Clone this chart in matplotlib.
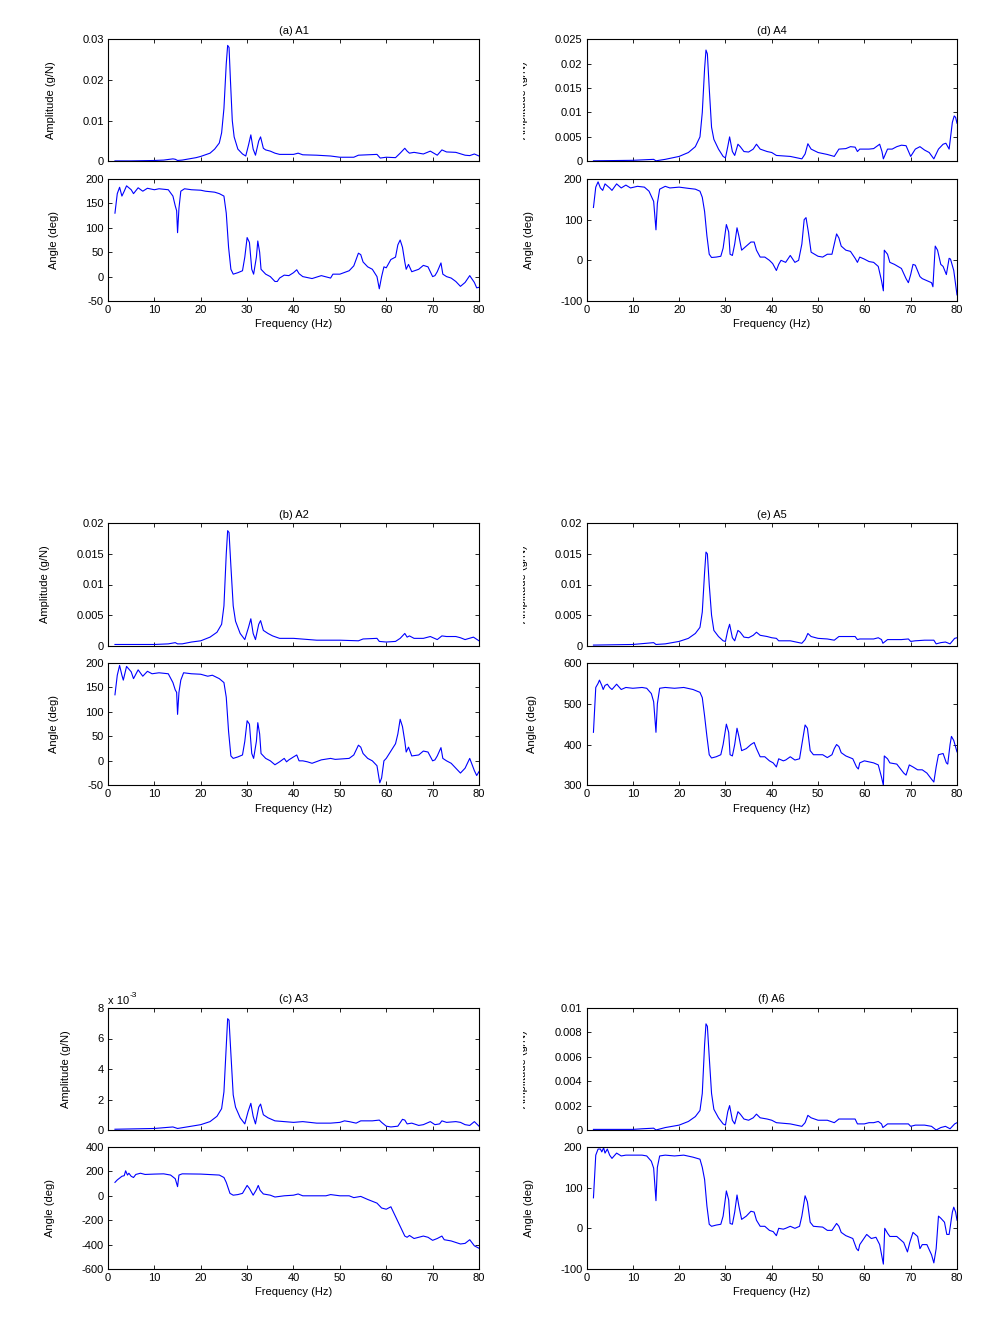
import numpy as np
import matplotlib
matplotlib.use('Agg')
import matplotlib.pyplot as plt
from matplotlib.transforms import Bbox, TransformedBbox

plt.rcParams['font.family'] = ['Liberation Sans', 'DejaVu Sans']
plt.rcParams['font.size'] = 8
plt.rcParams['axes.unicode_minus'] = False

# (frequency Hz, value) pairs
a1_amp = [(1.5,0.0001),(5,0.0001),(10,0.0002),(12,0.0003),(14,0.0006),(14.5,0.0005),(15,0.0002),(16,0.0003),
          (17,0.0005),(19,0.0009),(20,0.0012),(22,0.002),(23,0.003),(24,0.0045),(24.5,0.007),(25,0.013),
          (25.5,0.024),(25.8,0.0285),(26.1,0.028),(26.4,0.02),(26.8,0.01),(27.2,0.006),(28,0.003),(29,0.0018),
          (29.7,0.0013),(30.3,0.004),(30.8,0.0065),(31.3,0.003),(31.8,0.0015),(32.5,0.005),(32.9,0.006),
          (33.5,0.0032),(34,0.0028),(35,0.0025),(36,0.002),(37,0.0017),(40,0.0017),(41,0.002),(42,0.0016),
          (45,0.0015),(48,0.0013),(50,0.001),(53,0.001),(54,0.0015),(58,0.0017),(58.7,0.0008),(60,0.001),
          (62,0.0009),(63,0.002),(64,0.0032),(64.5,0.0025),(65,0.002),(66,0.0022),(68,0.0018),(69.5,0.0025),
          (71,0.0015),(72,0.0028),(73,0.0023),(75,0.0022),(77,0.0015),(78,0.0014),(79,0.0018),(80,0.0013)]
a1_ang = [(1.5,130),(2,170),(2.5,183),(3,165),(3.5,175),(4,186),(5,178),(5.5,170),(6.5,182),(7.5,175),
          (8.5,181),(10,178),(11,180),(13,178),(14,165),(14.5,145),(14.8,135),(15,90),(15.3,140),(15.7,175),
          (16.5,180),(18,178),(20,177),(21,175),(23,173),(24,170),(25,165),(25.5,130),(26,60),(26.5,15),
          (27,5),(28,8),(29,12),(29.5,40),(30,80),(30.5,70),(31,15),(31.4,5),(32,40),(32.3,73),(32.7,50),
          (33,15),(34,5),(35,0),(36,-10),(36.5,-10),(37,-3),(38,3),(39,2),(40,8),(40.7,14),(41.2,6),(42,0),
          (44,-4),(46,2),(48,-3),(48.5,5),(50,5),(52,12),(53,22),(54,48),(54.5,45),(55,30),(56,20),(57,15),
          (58,0),(58.5,-25),(59,0),(59.5,20),(60,18),(61,35),(62,40),(62.5,65),(63,75),(63.5,60),(64,30),
          (64.3,15),(64.8,25),(65.5,10),(67,15),(68,23),(69,20),(70,0),(70.5,2),(71,10),(71.8,28),(72.2,5),
          (73,0),(74,-3),(75,-10),(76,-20),(77,-12),(78,2),(79,-12),(79.5,-23),(80,-22)]

a2_amp = [(1.5,0.0002),(10,0.0002),(13,0.0003),(14.5,0.0005),(15,0.0003),(16,0.0003),(18,0.0006),(20,0.0008),
          (22,0.0014),(23.5,0.0022),(24.5,0.0035),(25,0.0065),(25.5,0.015),(25.8,0.0188),(26.1,0.0185),
          (26.5,0.013),(27,0.0065),(27.5,0.004),(28.5,0.002),(29.5,0.001),(30.3,0.003),(30.8,0.0044),
          (31.3,0.002),(31.8,0.001),(32.5,0.0035),(32.9,0.0041),(33.5,0.0025),(34.5,0.002),(35.5,0.0016),
          (37,0.0012),(40,0.0012),(45,0.0009),(50,0.0009),(54,0.0008),(55,0.0011),(58,0.0012),(58.5,0.0007),
          (60,0.0006),(62,0.0007),(63,0.0012),(64,0.002),(64.5,0.0014),(65,0.0016),(66,0.0012),(68,0.0012),
          (69.5,0.0015),(71,0.001),(72,0.0016),(73,0.0015),(75,0.0015),(76,0.0013),(77,0.001),(78.8,0.0014),
          (80,0.0008)]
a2_ang = [(1.5,135),(2,175),(2.5,195),(3,175),(3.3,165),(4,193),(5,182),(5.5,168),(6.5,186),(7.5,173),
          (8.5,183),(9.5,178),(11,180),(13,178),(14,160),(14.5,145),(14.8,140),(15,95),(15.3,140),(15.7,165),
          (16.3,180),(18,178),(20,177),(21.5,173),(22.5,175),(24,168),(25,160),(25.5,130),(26,60),(26.5,10),
          (27,5),(28,8),(29,12),(29.5,40),(30,82),(30.5,75),(31,15),(31.4,5),(32,40),(32.3,78),(32.7,55),
          (33,15),(34,5),(35,0),(36,-8),(37,-2),(38,5),(38.5,-2),(39,2),(40,8),(40.7,12),(41.2,0),(42,0),
          (43,-2),(44,-5),(46,2),(48,5),(49,3),(52,5),(53,12),(54,32),(54.5,28),(55,15),(56,5),(57,0),
          (58,-10),(58.6,-45),(59,-35),(59.5,0),(60,5),(61,20),(62,35),(62.5,55),(63,85),(63.5,70),(64,40),
          (64.3,18),(64.8,28),(65.5,10),(67,12),(68,20),(69,18),(70,0),(70.5,2),(71,10),(71.8,27),(72.2,5),
          (73,0),(74,-5),(75,-15),(76,-25),(77,-15),(77.5,-5),(78,5),(79,-20),(79.5,-30),(80,-22)]

a3_amp = [(1.5,0.05e-3),(10,0.1e-3),(14,0.2e-3),(15,0.1e-3),(17,0.2e-3),(20,0.35e-3),(22,0.55e-3),
          (23.5,0.9e-3),(24.5,1.4e-3),(25,2.5e-3),(25.5,5.5e-3),(25.8,7.3e-3),(26.1,7.2e-3),(26.5,5e-3),
          (27,2.3e-3),(27.5,1.5e-3),(28.5,0.8e-3),(29.5,0.4e-3),(30.2,1.2e-3),(30.8,1.75e-3),(31.3,0.9e-3),
          (31.8,0.4e-3),(32.5,1.5e-3),(32.9,1.7e-3),(33.5,1.0e-3),(34.5,0.8e-3),(36,0.6e-3),(38,0.55e-3),
          (40,0.5e-3),(42,0.55e-3),(45,0.45e-3),(48,0.45e-3),(50,0.5e-3),(51,0.6e-3),(52,0.55e-3),
          (53.5,0.45e-3),(54.5,0.6e-3),(57,0.6e-3),(58.5,0.65e-3),(59,0.5e-3),(60,0.25e-3),(61,0.2e-3),
          (62.5,0.25e-3),(63.5,0.7e-3),(64,0.65e-3),(64.5,0.4e-3),(65.5,0.45e-3),(67,0.3e-3),(68,0.35e-3),
          (69.5,0.55e-3),(70.5,0.35e-3),(71.5,0.4e-3),(72,0.6e-3),(73,0.5e-3),(75,0.55e-3),(76,0.5e-3),
          (77,0.35e-3),(78,0.3e-3),(79,0.55e-3),(80,0.25e-3)]
a3_ang = [(1.5,110),(2,130),(3,160),(3.5,165),(3.8,205),(4.2,170),(4.5,185),(5,160),(5.5,150),(6,175),
          (7,185),(8,175),(10,178),(12,180),(13.5,170),(14.5,140),(15,75),(15.3,170),(16,180),(20,178),
          (24,170),(25,150),(25.5,110),(26.3,20),(27,5),(28,10),(29,20),(30,85),(30.5,60),(31.3,5),(32,50),
          (32.4,85),(32.8,45),(33.5,15),(35,5),(36,-10),(38,0),(40,5),(41,15),(42,0),(45,0),(47,0),(48,10),
          (50,0),(52,0),(53,-15),(54.5,-5),(56,-30),(58,-60),(59,-100),(60,-110),(61,-90),(62,-170),
          (63,-250),(64,-330),(64.5,-340),(65,-325),(66,-350),(67,-340),(68,-330),(69,-340),(70,-365),
          (71,-350),(72,-330),(72.5,-360),(74,-370),(76,-395),(77,-390),(78,-360),(79,-410),(80,-430)]

a4_amp = [(1.5,0.0001),(10,0.0002),(14.5,0.0004),(15,0.0001),(17,0.0004),(20,0.001),(22,0.0018),
          (23.5,0.003),(24.5,0.005),(25,0.01),(25.5,0.019),(25.8,0.0228),(26.1,0.022),(26.5,0.015),(27,0.007),
          (27.5,0.0045),(28.5,0.0025),(29.5,0.001),(30,0.0007),(30.5,0.003),(30.9,0.005),(31.5,0.002),
          (32,0.0012),(32.7,0.0035),(33.2,0.003),(34,0.002),(35,0.0019),(36,0.0025),(36.7,0.0035),
          (37.5,0.0025),(39,0.002),(40,0.0018),(41,0.0012),(44,0.001),(46.5,0.0005),(47.2,0.0015),
          (47.8,0.0036),(48.5,0.0025),(50,0.0018),(52,0.0014),(53.5,0.001),(54.5,0.0025),(56,0.0026),
          (57,0.003),(58,0.0029),(58.5,0.002),(59,0.0025),(61,0.0025),(62,0.0026),(63.3,0.0035),(63.8,0.002),
          (64.1,0.0005),(65,0.0025),(66,0.0025),(67,0.003),(68,0.0033),(69,0.0032),(70,0.001),(71,0.0025),
          (72,0.003),(73,0.0023),(74,0.0018),(75,0.0005),(76,0.0025),(77,0.0035),(77.6,0.0037),(78.3,0.0025),
          (79,0.008),(79.4,0.0093),(79.7,0.009),(80,0.0078)]
a4_ang = [(1.5,130),(2,180),(2.5,193),(3,178),(3.5,172),(4,188),(5,178),(5.5,172),(6.5,188),(7.5,178),
          (8.5,185),(9.5,178),(11,182),(12.5,180),(13.5,170),(14.5,145),(15,75),(15.3,140),(15.8,175),
          (17,182),(18,178),(20,180),(22,177),(23.5,175),(24.5,170),(25,155),(25.5,120),(26,60),(26.5,15),
          (27,7),(28,8),(29,10),(29.5,30),(30.2,88),(30.7,70),(31,15),(31.5,12),(32,40),(32.5,80),(32.9,60),
          (33.5,25),(34.5,35),(35.5,45),(36.2,45),(36.7,25),(37.5,8),(38.5,8),(39.5,0),(40.2,-8),(41,-25),
          (41.5,-10),(42,0),(43,-5),(44,12),(45,-5),(45.8,0),(46.5,40),(47,100),(47.4,105),(47.9,70),(48.5,20),
          (50,10),(51,8),(52,15),(53,15),(53.5,40),(54,65),(54.5,55),(55,35),(56,25),(57,22),(58,5),(58.5,-5),
          (59,8),(60,3),(61,-3),(62,-5),(63,-15),(63.7,-50),(64.1,-75),(64.3,25),(65,15),(65.5,-5),(66.5,-10),
          (68,-20),(69,-45),(69.5,-55),(70,-35),(70.5,-10),(71,-12),(72,-40),(72.5,-45),(73.5,-50),(74.5,-55),
          (74.8,-65),(75.3,35),(75.8,25),(76.5,-10),(77,-15),(77.7,-35),(78.3,5),(78.6,3),(79.3,-25),(80,-85)]

a5_amp = [(1.5,0.0001),(10,0.0002),(14.5,0.0005),(15,0.0002),(17,0.0003),(20,0.0007),(22,0.0012),
          (23.5,0.002),(24.5,0.003),(25,0.0055),(25.5,0.012),(25.8,0.0153),(26.1,0.015),(26.5,0.01),(27,0.005),
          (27.5,0.0025),(28.5,0.0015),(29.5,0.0008),(30,0.0007),(30.5,0.0025),(30.9,0.0035),(31.5,0.0013),
          (32,0.0008),(32.7,0.0025),(33.2,0.0022),(34,0.0014),(35,0.0013),(36,0.0017),(36.7,0.0022),
          (37.5,0.0017),(39,0.0015),(40,0.0013),(41,0.0012),(41.5,0.0008),(44,0.0008),(46.5,0.0004),
          (47.2,0.001),(47.8,0.002),(48.5,0.0015),(50,0.0012),(52,0.0011),(53.5,0.0009),(54.5,0.0015),
          (56,0.0015),(58,0.0015),(58.5,0.001),(59,0.0011),(62,0.0011),(63,0.0013),(63.7,0.001),(64,0.0004),
          (65,0.001),(68,0.001),(69.5,0.0011),(70,0.0007),(71,0.0008),(73,0.0009),(75,0.0009),(75.5,0.0003),
          (76.5,0.0005),(77.5,0.0006),(78.5,0.0003),(79.5,0.0012),(80,0.0013)]
a5_ang = [(1.5,430),(2,540),(2.5,550),(2.8,558),(3.3,545),(3.6,535),(4,545),(4.5,548),(5,540),(5.5,535),
          (6.5,548),(7.5,535),(8.5,540),(10,538),(12,540),(13,538),(14,525),(14.5,505),(15,430),(15.3,500),
          (15.8,538),(17,540),(19,538),(21,540),(23,535),(24.5,528),(25,515),(25.5,470),(26,420),(26.5,375),
          (27,367),(28,370),(29,375),(29.5,400),(30.2,450),(30.7,430),(31,375),(31.5,372),(32,400),(32.5,440),
          (32.9,420),(33.5,385),(34.5,390),(35.5,400),(36.2,405),(36.7,390),(37.5,370),(38.5,370),(39.5,360),
          (40.3,355),(41,345),(41.5,365),(42.5,360),(43,362),(44,370),(45,362),(46,365),(46.5,400),(47.2,448),
          (47.7,440),(48.3,385),(49,375),(51,375),(52,368),(53,375),(53.5,390),(54,400),(54.5,395),(55,380),
          (56,372),(57.5,365),(58.3,345),(58.7,340),(59,355),(60,360),(62,355),(63,350),(63.7,320),(64.1,300),
          (64.3,372),(65,365),(65.5,355),(67,352),(68.5,330),(69,325),(69.7,350),(70.5,345),(71.5,338),
          (72.5,338),(73.5,330),(74.5,315),(75,308),(75.5,345),(76,375),(77,378),(77.7,355),(78,352),(78.5,400),
          (78.8,420),(79.3,410),(80,382)]

a6_amp = [(1.5,0.00005),(10,0.00005),(12,0.0001),(14.5,0.00015),(15,0.0),(17,0.0002),(20,0.0004),
          (22,0.0007),(23.5,0.0011),(24.5,0.0016),(25,0.003),(25.5,0.007),(25.8,0.0087),(26.1,0.0085),
          (26.5,0.006),(27,0.003),(27.5,0.0017),(28.5,0.001),(29.5,0.0005),(30,0.0004),(30.5,0.0015),
          (30.9,0.002),(31.5,0.0008),(32,0.0005),(32.7,0.0015),(33.2,0.0013),(34,0.0009),(35,0.0008),
          (36,0.001),(36.7,0.0013),(37.5,0.001),(39,0.0009),(40,0.0008),(41,0.0006),(44,0.0005),(46.5,0.0003),
          (47.2,0.0006),(47.8,0.0012),(48.5,0.001),(50,0.0008),(52,0.0008),(53.5,0.0006),(54.5,0.0009),
          (56,0.0009),(58,0.0009),(58.5,0.0005),(60,0.0005),(61,0.0006),(62,0.0006),(63,0.0007),(63.7,0.0005),
          (64,0.0002),(65,0.0005),(68,0.0005),(69.5,0.0005),(70,0.0003),(71,0.0004),(73,0.0004),(74.5,0.0003),
          (75.5,0.0),(76.5,0.0002),(77.5,0.0003),(78.5,0.0001),(79.5,0.0005),(80,0.0006)]
a6_ang = [(1.5,75),(2,180),(2.5,195),(3,195),(3.3,188),(3.7,198),(4,185),(4.5,195),(5,180),(5.5,172),
          (6.5,185),(7.5,178),(8.5,180),(10,180),(12,180),(13,178),(14,165),(14.5,148),(15,68),(15.3,150),
          (15.8,178),(17,180),(19,178),(21,180),(23,175),(24.5,170),(25,150),(25.5,120),(26,55),(26.5,10),
          (27,5),(28,8),(29,10),(29.5,30),(30.2,92),(30.7,70),(31,12),(31.5,10),(32,40),(32.5,82),(32.9,55),
          (33.5,22),(34.5,30),(35.5,42),(36.2,40),(36.7,20),(37.5,5),(38.5,5),(39.5,-5),(40.3,-8),(41,-18),
          (41.5,0),(42.5,-2),(43,0),(44,5),(45,0),(46,5),(46.5,30),(47.2,80),(47.7,65),(48.3,15),(49,5),
          (51,3),(52,-5),(53,-5),(54,12),(54.5,5),(55,-10),(56,-18),(57.5,-25),(58.3,-50),(58.7,-55),(59,-40),
          (60.5,-15),(61.5,-25),(62.5,-22),(63.3,-40),(63.8,-70),(64.1,-88),(64.4,0),(65,-12),(65.5,-20),
          (67,-20),(68.5,-35),(69.3,-58),(69.8,-35),(70.5,-10),(71,-15),(71.5,-20),(72,-50),(72.5,-40),
          (73.5,-40),(74.5,-65),(75,-85),(75.5,-50),(76,30),(76.5,25),(77.3,15),(77.8,-15),(78.3,-15),(79,40),
          (79.3,52),(79.7,40),(80,20)]

titles = ['(a) A1', '(b) A2', '(c) A3', '(d) A4', '(e) A5', '(f) A6']
freq_ticks = [0, 10, 20, 30, 40, 50, 60, 70, 80]
amp_ticks = [[0, 0.01, 0.02, 0.03],
             [0, 0.005, 0.01, 0.015, 0.02],
             [0, 0.002, 0.004, 0.006, 0.008],
             [0, 0.005, 0.01, 0.015, 0.02, 0.025],
             [0, 0.005, 0.01, 0.015, 0.02],
             [0, 0.002, 0.004, 0.006, 0.008, 0.01]]
amp_labels = [['0', '0.01', '0.02', '0.03'],
              ['0', '0.005', '0.01', '0.015', '0.02'],
              ['0', '2', '4', '6', '8'],
              ['0', '0.005', '0.01', '0.015', '0.02', '0.025'],
              ['0', '0.005', '0.01', '0.015', '0.02'],
              ['0', '0.002', '0.004', '0.006', '0.008', '0.01']]
ang_ticks = [[-50, 0, 50, 100, 150, 200],
             [-50, 0, 50, 100, 150, 200],
             [-600, -400, -200, 0, 200, 400],
             [-100, 0, 100, 200],
             [300, 400, 500, 600],
             [-100, 0, 100, 200]]

amps = [a1_amp, a2_amp, a3_amp, a4_amp, a5_amp, a6_amp]
angs = [a1_ang, a2_ang, a3_ang, a4_ang, a5_ang, a6_ang]

W, H = 995, 1333
fig = plt.figure(figsize=(W/100, H/100), dpi=100)

col_x = [(108, 479), (586.5, 957)]
row_y = [(39.3, 161.3, 179, 301), (523.3, 645.7, 663, 785.3), (1008, 1130, 1147, 1269)]

def px_rect(x0, x1, y0, y1):
    return [x0/W, 1 - y1/H, (x1-x0)/W, (y1-y0)/H]

def style(ax):
    ax.tick_params(direction='in', length=3, width=0.6, top=True, right=True, labelsize=8, pad=3)
    for s in ax.spines.values():
        s.set_linewidth(0.8)
    ax.set_xlim(0, 80)
    ax.set_xticks(freq_ticks)

for i in range(6):
    col, row = i // 3, i % 3
    x0, x1 = col_x[col]
    ya0, ya1, yb0, yb1 = row_y[row]

    ax1 = fig.add_axes(px_rect(x0, x1, ya0, ya1))
    f, v = zip(*amps[i])
    ax1.plot(f, v, color='b', lw=0.8)
    style(ax1)
    ax1.set_xticklabels([])
    ax1.set_ylim(amp_ticks[i][0], amp_ticks[i][-1])
    ax1.set_yticks(amp_ticks[i])
    ax1.set_yticklabels(amp_labels[i])
    ax1.set_title(titles[i], fontsize=8, pad=4)
    lab = ax1.set_ylabel('Amplitude (g/N)', fontsize=8, labelpad=19)
    if col == 1:
        # label is cut off in the original picture
        lab.set_clip_box(TransformedBbox(Bbox([[523/W, 0], [1, 1]]), fig.transFigure))
        lab.set_clip_on(True)
    if i == 2:
        ax1.text(0, 1.02, 'x 10', transform=ax1.transAxes, ha='left', va='bottom', fontsize=8)
        ax1.text(0.058, 1.07, '-3', transform=ax1.transAxes, ha='left', va='bottom', fontsize=6)

    ax2 = fig.add_axes(px_rect(x0, x1, yb0, yb1))
    f, v = zip(*angs[i])
    ax2.plot(f, v, color='b', lw=0.8)
    style(ax2)
    ax2.set_ylim(ang_ticks[i][0], ang_ticks[i][-1])
    ax2.set_yticks(ang_ticks[i])
    ax2.set_ylabel('Angle (deg)', fontsize=8, labelpad=19)
    ax2.set_xlabel('Frequency (Hz)', fontsize=8, labelpad=3)

fig.savefig('out.png', dpi=100)
